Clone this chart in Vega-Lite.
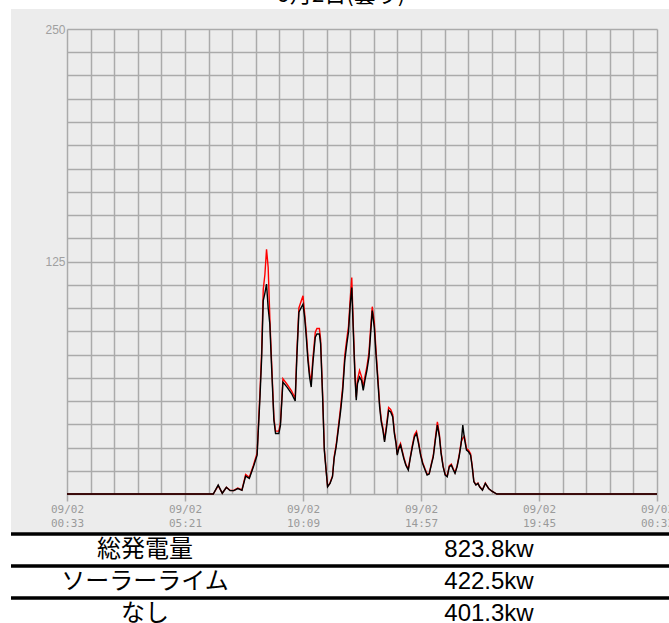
{
  "$schema": "https://vega.github.io/schema/vega-lite/v6.json",
  "background": "white",
  "padding": {"top": -16, "left": 9, "right": 0, "bottom": 0},
  "title": {"text": "9月2日(曇り)", "fontSize": 22, "font": "Noto Sans CJK JP", "fontWeight": "normal", "color": "#000000", "anchor": "middle", "offset": 2},
  "config": {"view": {"stroke": null}},
  "spacing": 0,
  "vconcat": [
    {
      "width": 660,
      "height": 523,
      "view": {"fill": "#ececec", "stroke": null},
      "resolve": {"axis": {"x": "independent", "y": "independent"}},
      "data": {"values": [
        {"t": "2024-09-02T00:33", "s": 0, "n": 0},
        {"t": "2024-09-02T06:30", "s": 0, "n": 0},
        {"t": "2024-09-02T06:42", "s": 4.5, "n": 4.8},
        {"t": "2024-09-02T06:52", "s": 0.5, "n": 0.4},
        {"t": "2024-09-02T07:02", "s": 3.6, "n": 3.6},
        {"t": "2024-09-02T07:11", "s": 2.0, "n": 1.8},
        {"t": "2024-09-02T07:20", "s": 1.9, "n": 1.8},
        {"t": "2024-09-02T07:30", "s": 3.2, "n": 2.9},
        {"t": "2024-09-02T07:40", "s": 2.2, "n": 2.0},
        {"t": "2024-09-02T07:49", "s": 10.5, "n": 9.6},
        {"t": "2024-09-02T07:58", "s": 9.0, "n": 8.4},
        {"t": "2024-09-02T08:08", "s": 15.5, "n": 14.6},
        {"t": "2024-09-02T08:17", "s": 22, "n": 20.9},
        {"t": "2024-09-02T08:24", "s": 55, "n": 52},
        {"t": "2024-09-02T08:28", "s": 76, "n": 72.7},
        {"t": "2024-09-02T08:32", "s": 110, "n": 104},
        {"t": "2024-09-02T08:36", "s": 118, "n": 108},
        {"t": "2024-09-02T08:40", "s": 131.6, "n": 112.9},
        {"t": "2024-09-02T08:44", "s": 121.8, "n": 100},
        {"t": "2024-09-02T08:48", "s": 95, "n": 91.4},
        {"t": "2024-09-02T08:52", "s": 73, "n": 70},
        {"t": "2024-09-02T08:58", "s": 41, "n": 39.6},
        {"t": "2024-09-02T09:02", "s": 33.8, "n": 32.5},
        {"t": "2024-09-02T09:10", "s": 33.8, "n": 32.5},
        {"t": "2024-09-02T09:14", "s": 38.5, "n": 37},
        {"t": "2024-09-02T09:20", "s": 62, "n": 60.2},
        {"t": "2024-09-02T09:30", "s": 59, "n": 57.5},
        {"t": "2024-09-02T09:41", "s": 55.5, "n": 54},
        {"t": "2024-09-02T09:50", "s": 51.5, "n": 50},
        {"t": "2024-09-02T09:54", "s": 76, "n": 73.6},
        {"t": "2024-09-02T09:59", "s": 100, "n": 97.7},
        {"t": "2024-09-02T10:05", "s": 104, "n": 100.4},
        {"t": "2024-09-02T10:09", "s": 106.6, "n": 102},
        {"t": "2024-09-02T10:13", "s": 97, "n": 95},
        {"t": "2024-09-02T10:17", "s": 87, "n": 84.3},
        {"t": "2024-09-02T10:21", "s": 74, "n": 71.8},
        {"t": "2024-09-02T10:25", "s": 65, "n": 62.9},
        {"t": "2024-09-02T10:29", "s": 60, "n": 57.5},
        {"t": "2024-09-02T10:33", "s": 72.5, "n": 70},
        {"t": "2024-09-02T10:39", "s": 87, "n": 84.3},
        {"t": "2024-09-02T10:43", "s": 89, "n": 86},
        {"t": "2024-09-02T10:49", "s": 89, "n": 86},
        {"t": "2024-09-02T10:52", "s": 83, "n": 80.7},
        {"t": "2024-09-02T10:57", "s": 53, "n": 51.2},
        {"t": "2024-09-02T11:01", "s": 24.5, "n": 23.6},
        {"t": "2024-09-02T11:06", "s": 11.5, "n": 11.1},
        {"t": "2024-09-02T11:09", "s": 4.1, "n": 3.9},
        {"t": "2024-09-02T11:15", "s": 6, "n": 5.7},
        {"t": "2024-09-02T11:21", "s": 9.7, "n": 9.3},
        {"t": "2024-09-02T11:25", "s": 20, "n": 19.1},
        {"t": "2024-09-02T11:30", "s": 26.5, "n": 25.4},
        {"t": "2024-09-02T11:36", "s": 37.5, "n": 36},
        {"t": "2024-09-02T11:41", "s": 47, "n": 45},
        {"t": "2024-09-02T11:46", "s": 58, "n": 55.7},
        {"t": "2024-09-02T11:51", "s": 74.5, "n": 71.8},
        {"t": "2024-09-02T11:56", "s": 83.5, "n": 80.7},
        {"t": "2024-09-02T12:00", "s": 90, "n": 87},
        {"t": "2024-09-02T12:04", "s": 104, "n": 101},
        {"t": "2024-09-02T12:08", "s": 116.4, "n": 111},
        {"t": "2024-09-02T12:12", "s": 89, "n": 86},
        {"t": "2024-09-02T12:16", "s": 64, "n": 62},
        {"t": "2024-09-02T12:19", "s": 52, "n": 50.4},
        {"t": "2024-09-02T12:22", "s": 61.5, "n": 59.3},
        {"t": "2024-09-02T12:27", "s": 66.4, "n": 62.9},
        {"t": "2024-09-02T12:32", "s": 63, "n": 61},
        {"t": "2024-09-02T12:36", "s": 57.5, "n": 55.7},
        {"t": "2024-09-02T12:40", "s": 63, "n": 61},
        {"t": "2024-09-02T12:45", "s": 68.5, "n": 66.4},
        {"t": "2024-09-02T12:50", "s": 76, "n": 73.6},
        {"t": "2024-09-02T12:54", "s": 89, "n": 86},
        {"t": "2024-09-02T12:58", "s": 100.7, "n": 98.6},
        {"t": "2024-09-02T13:03", "s": 92.5, "n": 89.6},
        {"t": "2024-09-02T13:07", "s": 78, "n": 75.4},
        {"t": "2024-09-02T13:11", "s": 65, "n": 62.9},
        {"t": "2024-09-02T13:16", "s": 48.5, "n": 46.8},
        {"t": "2024-09-02T13:20", "s": 40, "n": 38.8},
        {"t": "2024-09-02T13:24", "s": 35.5, "n": 34.3},
        {"t": "2024-09-02T13:28", "s": 29, "n": 28},
        {"t": "2024-09-02T13:33", "s": 37.5, "n": 36},
        {"t": "2024-09-02T13:38", "s": 46.5, "n": 45},
        {"t": "2024-09-02T13:43", "s": 45.5, "n": 44.1},
        {"t": "2024-09-02T13:48", "s": 42.8, "n": 41.4},
        {"t": "2024-09-02T13:52", "s": 33.6, "n": 32.5},
        {"t": "2024-09-02T13:56", "s": 28, "n": 27.1},
        {"t": "2024-09-02T13:59", "s": 21.6, "n": 20.9},
        {"t": "2024-09-02T14:03", "s": 25.3, "n": 24.5},
        {"t": "2024-09-02T14:07", "s": 27.2, "n": 26.3},
        {"t": "2024-09-02T14:11", "s": 23.5, "n": 22.7},
        {"t": "2024-09-02T14:15", "s": 19.8, "n": 19.1},
        {"t": "2024-09-02T14:20", "s": 16, "n": 15.5},
        {"t": "2024-09-02T14:26", "s": 13.4, "n": 12.9},
        {"t": "2024-09-02T14:30", "s": 18.8, "n": 18.2},
        {"t": "2024-09-02T14:36", "s": 26.3, "n": 25.4},
        {"t": "2024-09-02T14:41", "s": 31.8, "n": 30.7},
        {"t": "2024-09-02T14:46", "s": 33.6, "n": 32.5},
        {"t": "2024-09-02T14:51", "s": 28, "n": 27.1},
        {"t": "2024-09-02T14:56", "s": 21.6, "n": 20.9},
        {"t": "2024-09-02T15:01", "s": 17, "n": 16.4},
        {"t": "2024-09-02T15:07", "s": 13.4, "n": 12.9},
        {"t": "2024-09-02T15:12", "s": 10.6, "n": 10.2},
        {"t": "2024-09-02T15:17", "s": 11, "n": 10.7},
        {"t": "2024-09-02T15:23", "s": 17, "n": 16.4},
        {"t": "2024-09-02T15:27", "s": 20.7, "n": 20},
        {"t": "2024-09-02T15:32", "s": 30, "n": 28.9},
        {"t": "2024-09-02T15:37", "s": 38.8, "n": 37},
        {"t": "2024-09-02T15:42", "s": 31.8, "n": 30.7},
        {"t": "2024-09-02T15:46", "s": 22.5, "n": 21.8},
        {"t": "2024-09-02T15:51", "s": 15.1, "n": 14.6},
        {"t": "2024-09-02T15:56", "s": 10.6, "n": 10.2},
        {"t": "2024-09-02T16:01", "s": 9.6, "n": 9.3},
        {"t": "2024-09-02T16:06", "s": 15.1, "n": 14.6},
        {"t": "2024-09-02T16:11", "s": 16, "n": 15.5},
        {"t": "2024-09-02T16:16", "s": 13.4, "n": 12.9},
        {"t": "2024-09-02T16:20", "s": 11.5, "n": 11.1},
        {"t": "2024-09-02T16:25", "s": 15.1, "n": 14.6},
        {"t": "2024-09-02T16:30", "s": 20.7, "n": 20},
        {"t": "2024-09-02T16:35", "s": 28, "n": 27.1},
        {"t": "2024-09-02T16:39", "s": 30, "n": 37},
        {"t": "2024-09-02T16:43", "s": 31, "n": 29.8},
        {"t": "2024-09-02T16:48", "s": 24.5, "n": 23.6},
        {"t": "2024-09-02T16:53", "s": 23.5, "n": 22.7},
        {"t": "2024-09-02T16:58", "s": 21.6, "n": 20.9},
        {"t": "2024-09-02T17:02", "s": 15.1, "n": 14.6},
        {"t": "2024-09-02T17:06", "s": 6.8, "n": 6.6},
        {"t": "2024-09-02T17:11", "s": 5, "n": 4.8},
        {"t": "2024-09-02T17:16", "s": 5.9, "n": 5.7},
        {"t": "2024-09-02T17:20", "s": 4, "n": 3.9},
        {"t": "2024-09-02T17:27", "s": 2.2, "n": 2.1},
        {"t": "2024-09-02T17:34", "s": 5.9, "n": 5.7},
        {"t": "2024-09-02T17:42", "s": 3, "n": 3},
        {"t": "2024-09-02T17:50", "s": 1.5, "n": 1.5},
        {"t": "2024-09-02T18:02", "s": 0, "n": 0},
        {"t": "2024-09-03T00:33", "s": 0, "n": 0}
      ]},
      "layer": [
        {
          "mark": {"type": "line", "color": "#ff0000", "strokeWidth": 1.4},
          "encoding": {
            "x": {
              "field": "t", "type": "temporal",
              "scale": {
                "domain": [
                  {"year": 2024, "month": 9, "date": 2, "hours": 0, "minutes": 33},
                  {"year": 2024, "month": 9, "date": 3, "hours": 0, "minutes": 33}
                ],
                "range": [56, 646], "nice": false
              },
              "axis": {
                "title": null, "orient": "top", "domain": false, "ticks": false, "labels": false,
                "values": [
                  {"year": 2024, "month": 9, "date": 2, "hours": 0, "minutes": 33, "seconds": 0},
                  {"year": 2024, "month": 9, "date": 2, "hours": 1, "minutes": 30, "seconds": 36},
                  {"year": 2024, "month": 9, "date": 2, "hours": 2, "minutes": 28, "seconds": 12},
                  {"year": 2024, "month": 9, "date": 2, "hours": 3, "minutes": 25, "seconds": 48},
                  {"year": 2024, "month": 9, "date": 2, "hours": 4, "minutes": 23, "seconds": 24},
                  {"year": 2024, "month": 9, "date": 2, "hours": 5, "minutes": 21, "seconds": 0},
                  {"year": 2024, "month": 9, "date": 2, "hours": 6, "minutes": 18, "seconds": 36},
                  {"year": 2024, "month": 9, "date": 2, "hours": 7, "minutes": 16, "seconds": 12},
                  {"year": 2024, "month": 9, "date": 2, "hours": 8, "minutes": 13, "seconds": 48},
                  {"year": 2024, "month": 9, "date": 2, "hours": 9, "minutes": 11, "seconds": 24},
                  {"year": 2024, "month": 9, "date": 2, "hours": 10, "minutes": 9, "seconds": 0},
                  {"year": 2024, "month": 9, "date": 2, "hours": 11, "minutes": 6, "seconds": 36},
                  {"year": 2024, "month": 9, "date": 2, "hours": 12, "minutes": 4, "seconds": 12},
                  {"year": 2024, "month": 9, "date": 2, "hours": 13, "minutes": 1, "seconds": 48},
                  {"year": 2024, "month": 9, "date": 2, "hours": 13, "minutes": 59, "seconds": 24},
                  {"year": 2024, "month": 9, "date": 2, "hours": 14, "minutes": 57, "seconds": 0},
                  {"year": 2024, "month": 9, "date": 2, "hours": 15, "minutes": 54, "seconds": 36},
                  {"year": 2024, "month": 9, "date": 2, "hours": 16, "minutes": 52, "seconds": 12},
                  {"year": 2024, "month": 9, "date": 2, "hours": 17, "minutes": 49, "seconds": 48},
                  {"year": 2024, "month": 9, "date": 2, "hours": 18, "minutes": 47, "seconds": 24},
                  {"year": 2024, "month": 9, "date": 2, "hours": 19, "minutes": 45, "seconds": 0},
                  {"year": 2024, "month": 9, "date": 2, "hours": 20, "minutes": 42, "seconds": 36},
                  {"year": 2024, "month": 9, "date": 2, "hours": 21, "minutes": 40, "seconds": 12},
                  {"year": 2024, "month": 9, "date": 2, "hours": 22, "minutes": 37, "seconds": 48},
                  {"year": 2024, "month": 9, "date": 2, "hours": 23, "minutes": 35, "seconds": 24},
                  {"year": 2024, "month": 9, "date": 3, "hours": 0, "minutes": 33, "seconds": 0}
                ],
                "grid": true, "gridColor": "#aaaaaa", "gridWidth": 1.5
              }
            },
            "y": {
              "field": "s", "type": "quantitative",
              "scale": {"domain": [0, 250], "range": [485, 20], "nice": false, "zero": false},
              "axis": {
                "title": null, "orient": "left", "domain": false, "ticks": false, "labels": false,
                "values": [0, 12.5, 25, 37.5, 50, 62.5, 75, 87.5, 100, 112.5, 125, 137.5, 150, 162.5, 175, 187.5, 200, 212.5, 225, 237.5, 250],
                "grid": true, "gridColor": "#aaaaaa", "gridWidth": 1.5
              }
            }
          }
        },
        {
          "mark": {"type": "line", "color": "#000000", "strokeWidth": 1.4},
          "encoding": {
            "x": {
              "field": "t", "type": "temporal",
              "scale": {
                "domain": [
                  {"year": 2024, "month": 9, "date": 2, "hours": 0, "minutes": 33},
                  {"year": 2024, "month": 9, "date": 3, "hours": 0, "minutes": 33}
                ],
                "range": [56, 646], "nice": false
              },
              "axis": {
                "title": null, "orient": "bottom", "offset": -38, "domain": false, "grid": false,
                "values": [
                  {"year": 2024, "month": 9, "date": 2, "hours": 0, "minutes": 33},
                  {"year": 2024, "month": 9, "date": 2, "hours": 5, "minutes": 21},
                  {"year": 2024, "month": 9, "date": 2, "hours": 10, "minutes": 9},
                  {"year": 2024, "month": 9, "date": 2, "hours": 14, "minutes": 57},
                  {"year": 2024, "month": 9, "date": 2, "hours": 19, "minutes": 45},
                  {"year": 2024, "month": 9, "date": 3, "hours": 0, "minutes": 33}
                ],
                "ticks": true, "tickSize": 7, "tickColor": "#aaaaaa", "tickWidth": 1.5,
                "labelExpr": "[timeFormat(datum.value, '%m/%d'), timeFormat(datum.value, '%H:%M')]",
                "labelFont": "DejaVu Sans Mono", "labelFontSize": 11, "labelColor": "#9a9a9a",
                "labelBaseline": "top", "labelLineHeight": 14, "labelPadding": 2, "labelAlign": "center",
                "labelOverlap": false, "labelFlush": false, "labelBound": false
              }
            },
            "y": {
              "field": "n", "type": "quantitative",
              "scale": {"domain": [0, 250], "range": [485, 20], "nice": false, "zero": false},
              "axis": {
                "title": null, "orient": "right", "offset": -604, "domain": false, "ticks": false, "grid": false,
                "values": [125, 250],
                "labelFont": "Liberation Sans", "labelFontSize": 12, "labelColor": "#a0a0a0",
                "labelAlign": "right", "labelPadding": -2, "labelOverlap": false
              }
            }
          }
        }
      ]
    },
    {
      "width": 660,
      "height": 96,
      "view": {"fill": "white", "stroke": null},
      "data": {"values": [
        {"row": "総発電量", "col": "a", "text": "総発電量"},
        {"row": "総発電量", "col": "b", "text": "823.8kw"},
        {"row": "ソーラーライム", "col": "a", "text": "ソーラーライム"},
        {"row": "ソーラーライム", "col": "b", "text": "422.5kw"},
        {"row": "なし", "col": "a", "text": "なし"},
        {"row": "なし", "col": "b", "text": "401.3kw"}
      ]},
      "layer": [
        {
          "mark": {"type": "rule", "color": "#000000", "strokeWidth": 3},
          "encoding": {
            "y": {"field": "row", "type": "nominal", "bandPosition": 0,
                  "sort": ["総発電量", "ソーラーライム", "なし"],
                  "scale": {"paddingInner": 0, "paddingOuter": 0}, "axis": null}
          }
        },
        {
          "mark": {"type": "text", "fontSize": 24, "font": "Liberation Sans Narrow, Liberation Sans, Noto Sans CJK JP", "color": "#000000"},
          "encoding": {
            "x": {"field": "col", "type": "nominal", "scale": {"type": "point", "range": [134, 478], "padding": 0}, "axis": null},
            "y": {"field": "row", "type": "nominal",
                  "sort": ["総発電量", "ソーラーライム", "なし"],
                  "scale": {"paddingInner": 0, "paddingOuter": 0}, "axis": null},
            "text": {"field": "text"}
          }
        }
      ]
    }
  ]
}
